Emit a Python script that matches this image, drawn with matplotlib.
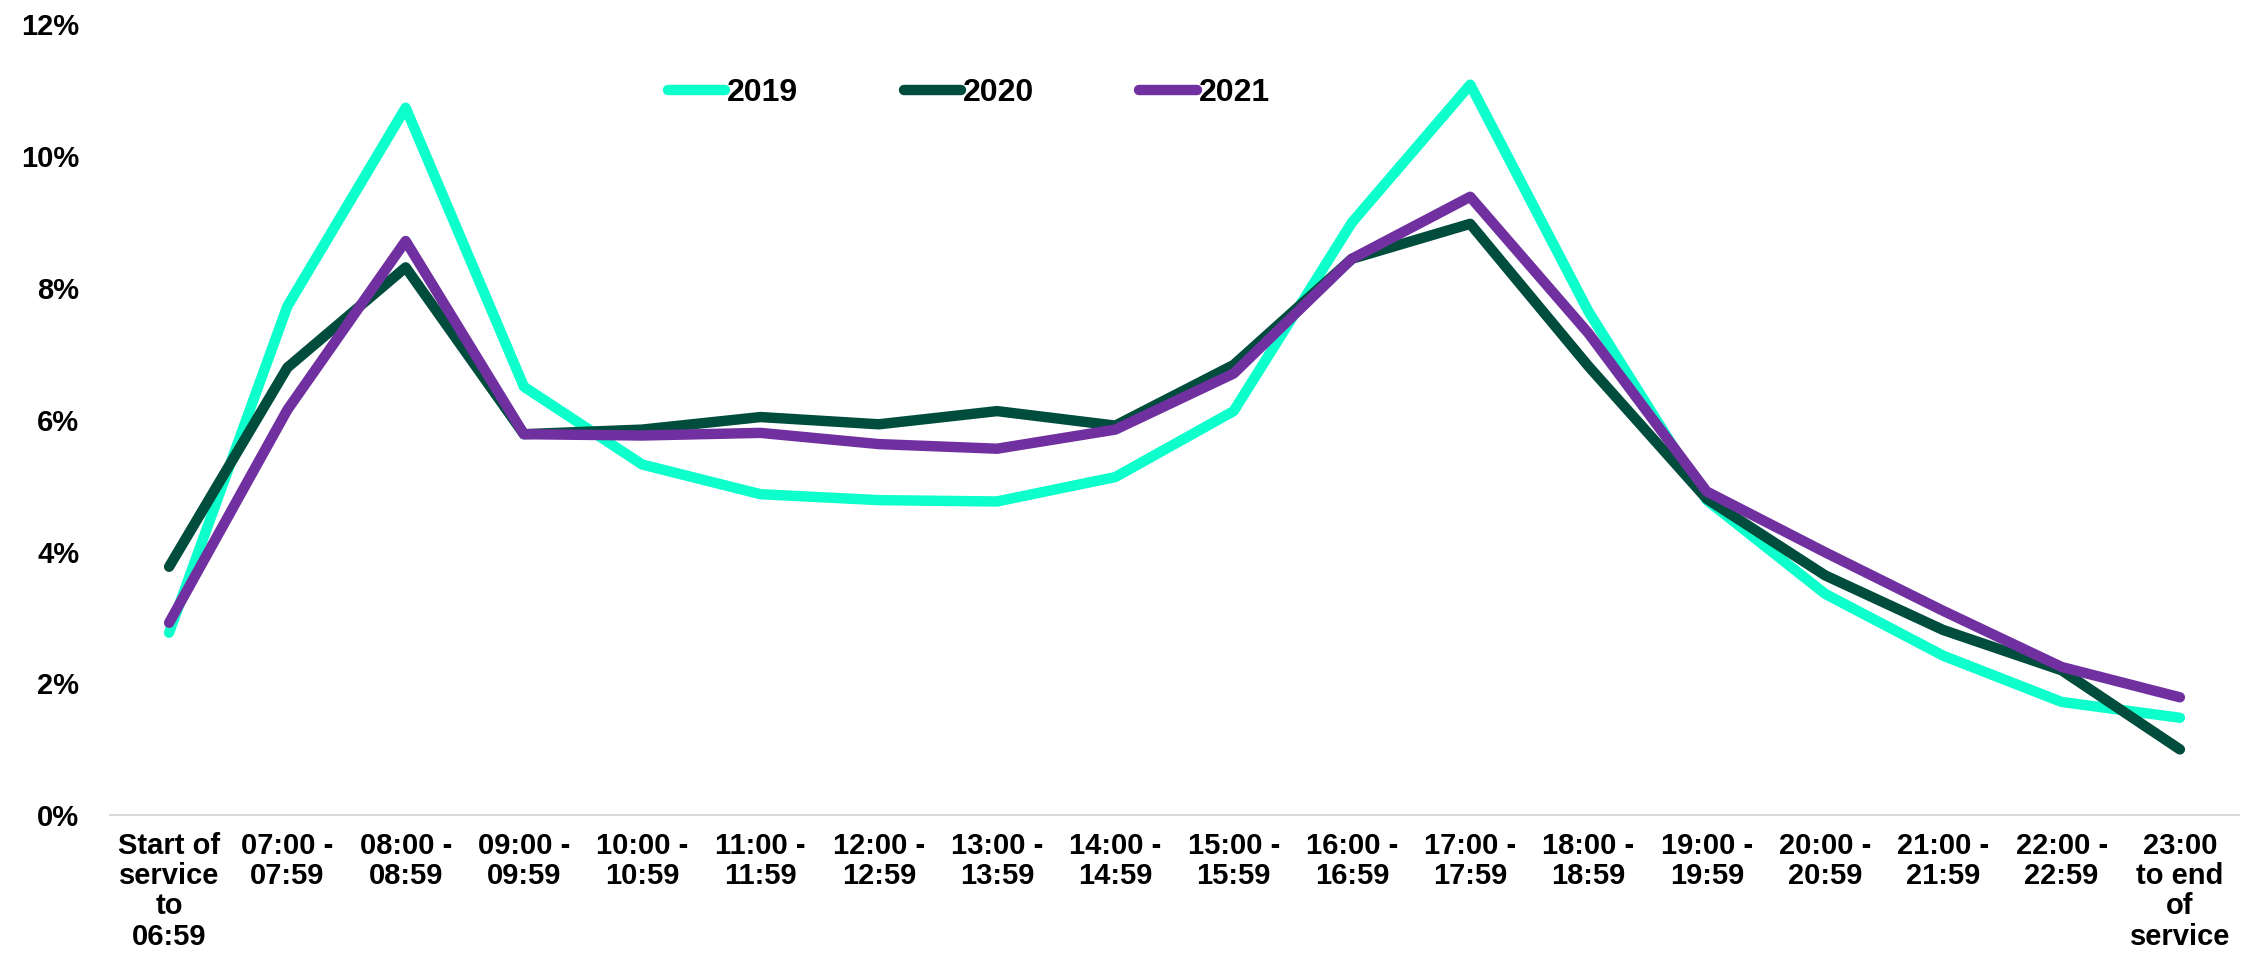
import matplotlib
matplotlib.use('Agg')
import matplotlib.pyplot as plt
import numpy as np

plt.rcParams['font.family'] = ['Liberation Sans', 'DejaVu Sans']
plt.rcParams['font.weight'] = 'bold'

categories = ['Start of\nservice\nto\n06:59', '07:00 -\n07:59', '08:00 -\n08:59', '09:00 -\n09:59',
              '10:00 -\n10:59', '11:00 -\n11:59', '12:00 -\n12:59', '13:00 -\n13:59',
              '14:00 -\n14:59', '15:00 -\n15:59', '16:00 -\n16:59', '17:00 -\n17:59',
              '18:00 -\n18:59', '19:00 -\n19:59', '20:00 -\n20:59', '21:00 -\n21:59',
              '22:00 -\n22:59', '23:00\nto end\nof\nservice']

vals_2019 = [2.77, 7.72, 10.73, 6.50, 5.32, 4.87, 4.78, 4.76, 5.13, 6.13,
             8.99, 11.08, 7.64, 4.78, 3.36, 2.42, 1.72, 1.48]
vals_2020 = [3.77, 6.79, 8.31, 5.78, 5.85, 6.04, 5.93, 6.13, 5.91, 6.83,
             8.44, 8.97, 6.81, 4.80, 3.64, 2.81, 2.20, 1.00]
vals_2021 = [2.92, 6.15, 8.71, 5.78, 5.76, 5.80, 5.63, 5.56, 5.85, 6.70,
             8.44, 9.38, 7.31, 4.91, 3.99, 3.10, 2.25, 1.79]

series = [('2019', vals_2019, '#0dffcc'),
          ('2020', vals_2020, '#004d3d'),
          ('2021', vals_2021, '#7030a0')]

fig = plt.figure(figsize=(22.53, 9.8), dpi=100)
ax = fig.add_axes([0.0488, 0.168, 0.945, 0.8075])

x = np.arange(len(categories))
for name, vals, col in series:
    ax.plot(x, vals, color=col, lw=7.5, label=name,
            solid_capstyle='round', solid_joinstyle='round')

ax.set_xlim(-0.5, len(categories) - 0.5)
ax.set_ylim(0, 12)
ax.set_yticks(np.arange(0, 13, 2))
ax.set_yticklabels(['%d%%' % v for v in range(0, 13, 2)])
ax.set_xticks(x)
ax.set_xticklabels(categories, linespacing=1.1)
ax.tick_params(length=0, labelsize=21, pad=12)
ax.tick_params(axis='y', pad=22)

for s in ['top', 'right', 'left']:
    ax.spines[s].set_visible(False)
ax.spines['bottom'].set_color('#d9d9d9')
ax.spines['bottom'].set_linewidth(1.5)

fig.legend(loc='center', bbox_to_anchor=(0.43, 1 - 93 / 980), ncol=3, frameon=False,
           fontsize=23, handlelength=1.8, handletextpad=0.05, columnspacing=3.3)

fig.savefig('out.png', dpi=100)
